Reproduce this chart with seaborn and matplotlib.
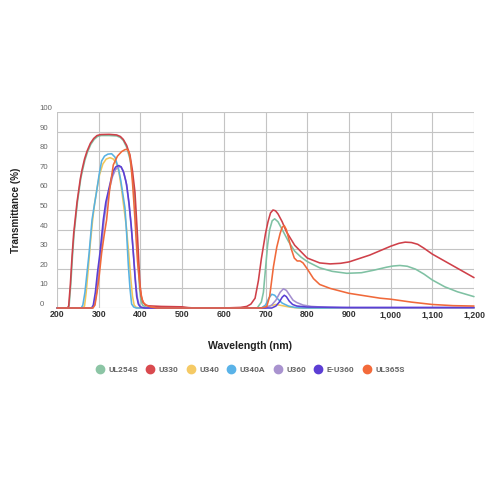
import pandas as pd
import matplotlib.pyplot as plt
import seaborn as sns
from matplotlib.lines import Line2D
from matplotlib.ticker import FuncFormatter

filters = ["UL254S", "U330", "U340", "U340A", "U360", "E-U360", "UL365S"]
line_colors = ["#7fc1a3", "#cf4049", "#f2c75a", "#57b2e3", "#a48fd0", "#5a3fd4", "#f0693a"]
legend_colors = ["#8cc5a5", "#d94a4f", "#f5ca65", "#5ab3e8", "#a993cf", "#5c3ed4", "#f36a3a"]

x_ticks = [200, 300, 400, 500, 600, 700, 800, 900, 1000, 1100, 1200]
y_ticks = [0, 10, 20, 30, 40, 50, 60, 70, 80, 90, 100]

# values (wavelength nm, transmittance %)
ul254s_wl = [200, 226, 229, 233, 237, 241, 245, 249, 253, 257, 261, 267, 273, 281, 289, 297, 306, 325,
             343, 352, 359, 367, 375, 381, 386, 389, 392, 395, 398, 401, 405, 412, 430,
             680, 690, 695, 700, 705, 710, 716, 722, 730, 740, 755, 770, 785, 800, 830, 860, 895,
             930, 960, 990, 1005, 1022, 1040, 1060, 1080, 1100, 1130, 1160, 1200]
ul254s_t = [0, 0, 1, 12, 26, 38, 46, 54, 60, 66, 70, 75.5, 79.5, 83.5, 86, 87.5, 88, 88,
            87.8, 87, 85.5, 82, 76, 67, 57, 46, 35, 22, 10, 4, 1.5, 0.5, 0,
            0, 3, 8, 20, 32, 40, 44.5, 45.5, 44, 40, 34, 29, 26, 23.7, 20.5, 18.7, 17.7,
            18, 19.3, 20.8, 21.4, 21.7, 21.3, 19.8, 17.3, 14.3, 10.8, 8.3, 5.8]

u330_wl = [200, 225, 228, 232, 236, 240, 244, 248, 252, 256, 260, 266, 272, 280, 288, 296, 305, 325,
           343, 352, 359, 367, 375, 381, 387, 390, 393, 396, 399, 402, 406, 412, 420, 450, 500, 515, 530,
           600, 640, 655, 665, 675, 683, 690, 700, 706, 712, 718, 724, 730, 740, 750, 770, 800, 830,
           855, 880, 900, 950, 1000, 1020, 1035, 1050, 1065, 1080, 1100, 1125, 1150, 1175, 1200]
u330_t = [0, 0, 1, 12, 26, 38, 46, 54, 60, 66, 70.5, 76, 80, 84, 86.5, 88, 88.5, 88.6,
          88.3, 87.5, 86, 83, 78, 70, 59, 48, 37, 24, 12, 6, 3, 1.5, 1.1, 0.8, 0.6, 0.2, 0,
          0, 0.3, 0.8, 2, 5, 14, 25, 38, 44, 48.5, 50, 49.6, 48, 44, 39, 32, 25.5, 23,
          22.5, 22.8, 23.5, 27, 31.5, 33, 33.6, 33.4, 32.5, 30.5, 27.5, 24.5, 21.5, 18.5, 15.5]

u340_wl = [200, 262, 266, 270, 275, 280, 285, 290, 296, 302, 310, 318, 327, 335, 342, 348, 354, 360,
           366, 372, 377, 381, 385, 390, 400, 690, 710, 725, 740, 760, 780, 1200]
u340_t = [0, 0, 1, 8, 20, 33, 44, 53, 61, 68, 73.5, 76, 76.7, 76, 74, 70, 62, 52,
          42, 28, 15, 6, 1.5, 0.3, 0, 0, 1, 1.8, 1.2, 0.4, 0, 0]

u340a_wl = [200, 258, 262, 267, 272, 277, 284, 290, 295, 301, 307, 314, 322, 331, 339, 347, 353, 358,
            363, 367, 371, 375, 379, 384, 390, 690, 700, 708, 715, 722, 730, 740, 755, 770, 790, 1200]
u340a_t = [0, 0, 1.5, 8, 18, 28, 45, 53, 59.5, 68, 75, 77.5, 78.5, 78.7, 77, 71.5, 65, 58,
           51, 38, 22, 10, 2, 0.5, 0, 0, 1.5, 5, 7, 6.5, 4.5, 2.5, 1, 0.3, 0, 0]

u360_wl = [200, 286, 290, 295, 300, 306, 313, 320, 326, 333, 340, 347, 353, 359, 365, 371, 376, 381,
           385, 389, 393, 397, 402, 410, 700, 715, 725, 735, 743, 750, 758, 766, 775, 790, 810, 850,
           900, 1200]
u360_t = [0, 0, 1.5, 8, 18, 30, 45, 55, 61, 67, 70.5, 72, 72, 70, 65, 56, 46, 34,
          23, 12, 5, 1.5, 0.3, 0, 0, 1.5, 4, 8, 9.8, 9, 6.5, 4, 2.8, 1.5, 0.8, 0.3,
          0, 0]

eu360_wl = [200, 283, 287, 292, 297, 303, 311, 317, 323, 330, 335, 341, 348, 354, 360, 367, 373, 378,
            383, 387, 391, 395, 400, 410, 715, 725, 733, 740, 745, 750, 757, 765, 775, 800, 900,
            1000, 1200]
eu360_t = [0, 0, 1.5, 8, 18, 28, 45, 54, 59.5, 66, 70, 72, 72.7, 72, 69, 63, 53, 42,
           28, 16, 6, 2, 0.5, 0, 0, 1, 3, 5.5, 6.5, 5.8, 3.5, 1.8, 1, 0.5, 0.3,
           0.3, 0.3]

ul365s_wl = [200, 286, 291, 296, 301, 307, 313, 319, 326, 335, 345, 355, 363, 368, 373, 377, 381, 384,
             387, 390, 393, 396, 400, 404, 408, 415, 425, 440, 690, 703, 710, 719, 727, 735, 740, 745,
             750, 755, 762, 769, 776, 783, 790, 800, 815, 830, 855, 900, 975, 1000, 1050, 1100, 1150,
             1200]
ul365s_t = [0, 0, 1.5, 8, 16, 28, 37, 45, 60, 73, 77.5, 79.8, 80.8, 81, 79.5, 74, 64, 55,
            45, 34, 24, 17, 9, 4.5, 2.5, 1.3, 0.5, 0, 0, 0.7, 6, 21, 31, 38, 41.2, 42,
            40, 36, 30, 25.5, 24, 24, 23, 20, 15, 12, 10, 7.5, 5, 4.5, 3, 1.8, 1.2,
            1]

series = {
    "UL254S": (ul254s_wl, ul254s_t),
    "U330": (u330_wl, u330_t),
    "U340": (u340_wl, u340_t),
    "U340A": (u340a_wl, u340a_t),
    "U360": (u360_wl, u360_t),
    "E-U360": (eu360_wl, eu360_t),
    "UL365S": (ul365s_wl, ul365s_t),
}

frames = []
for name, (wl, t) in series.items():
    frames.append(pd.DataFrame({"wavelength": wl, "transmittance": t, "filter": name}))
df = pd.concat(frames, ignore_index=True)

sns.set_style("white")
plt.rcParams["font.family"] = ["Liberation Sans", "DejaVu Sans"]

fig = plt.figure(figsize=(5, 5), dpi=100)
ax = fig.add_axes([0.114, 0.384, 0.834, 0.392])

sns.lineplot(data=df, x="wavelength", y="transmittance", hue="filter", hue_order=filters,
             palette=dict(zip(filters, line_colors)), estimator=None, linewidth=1.15,
             legend=False, ax=ax)
for line in ax.lines:
    line.set_clip_on(False)
    line.set_solid_joinstyle("round")

ax.set_xlim(200, 1200)
ax.set_ylim(0, 100)
ax.set_xticks(x_ticks)
ax.set_yticks(y_ticks)
ax.xaxis.set_major_formatter(FuncFormatter(lambda v, p: f"{int(v):,}"))
ax.grid(True, color="#c4c4c4", linewidth=0.8)
ax.set_axisbelow(True)
for s in ax.spines.values():
    s.set_visible(False)

ax.tick_params(axis="x", length=0, pad=6.8, labelsize=6.3, labelcolor="#333333")
ax.tick_params(axis="y", length=0, pad=12.5, labelsize=5.6, labelcolor="#666666")
for lab in ax.get_xticklabels():
    lab.set_fontweight("bold")
    lab.set_va("baseline")
for lab in ax.get_yticklabels():
    lab.set_ha("left")
    lab.set_va("bottom")

ax.set_xlabel("Wavelength (nm)", fontsize=7.6, fontweight="bold", color="#222222")
ax.set_ylabel("Transmittance (%)", fontsize=7.1, fontweight="bold", color="#222222")
ax.xaxis.set_label_coords(0.463, -0.168)
ax.yaxis.set_label_coords(-0.086, 0.5)

handles = [Line2D([], [], linestyle="none", marker="o", markersize=6,
                  markerfacecolor=c, markeredgecolor=c) for c in legend_colors]
leg = fig.legend(handles, filters, loc="center", bbox_to_anchor=(0.5, 0.262), ncol=7,
                 frameon=False, handlelength=1.0, handletextpad=0.5, columnspacing=1.0,
                 prop={"family": "Roboto", "size": 6, "weight": "bold"})
for txt in leg.get_texts():
    txt.set_color("#666666")

fig.savefig("out.png", dpi=100, facecolor="white")
